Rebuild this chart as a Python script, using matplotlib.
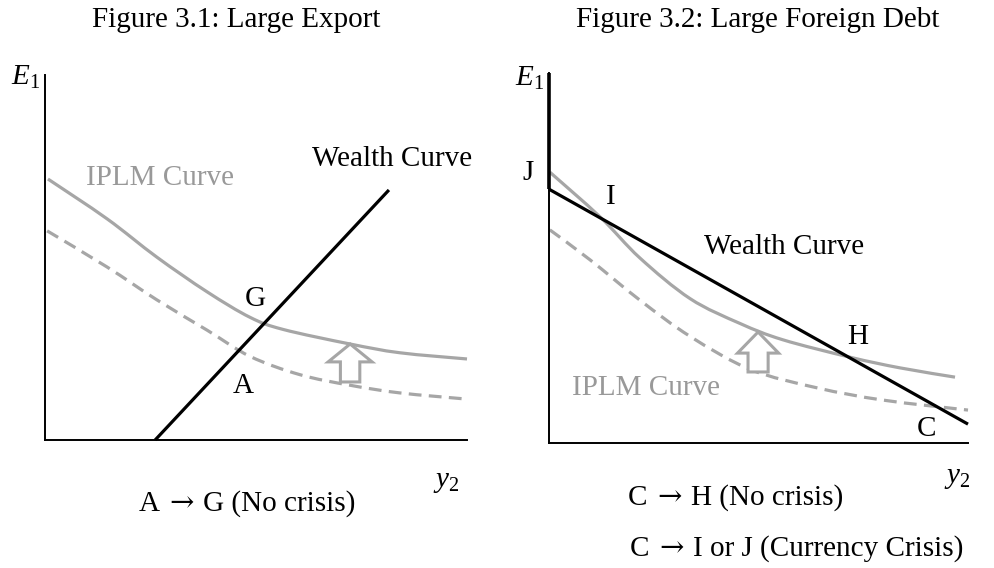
import matplotlib
matplotlib.use("Agg")
import matplotlib.pyplot as plt
from matplotlib.path import Path
from matplotlib.patches import PathPatch, Polygon
from matplotlib.offsetbox import TextArea, HPacker, AnnotationBbox

plt.rcParams["font.family"] = ["Liberation Serif", "DejaVu Serif"]
plt.rcParams["mathtext.fontset"] = "custom"
plt.rcParams["mathtext.rm"] = "Liberation Serif"
plt.rcParams["mathtext.it"] = "Liberation Serif:italic"

W, H = 994, 568
GRAY = "#a6a6a6"

# Figure 3.1 (diagram units 0-100 on both axes)
left_iplm_x = [0.7, 14.7, 26.5, 38.4, 48.6, 56.4, 72.3, 84.1, 100]
left_iplm_y = [71.5, 60.6, 50.1, 40.6, 33.6, 30.3, 26.3, 23.9, 22.2]
left_old_x = [0.5, 14.7, 26.5, 38.4, 48.6, 60.4, 72.3, 84.1, 100]
left_old_y = [57.3, 47.4, 38.4, 30.1, 22.9, 17.9, 15.0, 12.9, 11.2]
left_wealth_x = [26.1, 81.5]
left_wealth_y = [0, 68.5]

# Figure 3.2
right_iplm_x = [0.2, 12.2, 21.7, 33.7, 45.6, 55.8, 71.8, 83.8, 96.9]
right_iplm_y = [73.2, 61.1, 50.0, 39.0, 32.3, 27.9, 23.2, 20.3, 17.8]
right_old_x = [0.2, 9.8, 21.7, 33.7, 48.0, 64.0, 79.7, 100]
right_old_y = [57.6, 49.5, 38.6, 28.8, 19.9, 14.9, 11.6, 8.9]
right_wealth_x = [0, 100]
right_wealth_y = [68.6, 5.1]
right_bound_y = [68.6, 100]


def px(x, y):
    return x / W, 1 - y / H


def make_axes(fig, l, r, t, b):
    ax = fig.add_axes([l / W, 1 - b / H, (r - l) / W, (b - t) / H])
    ax.set_xlim(0, 100)
    ax.set_ylim(0, 100)
    for s in ["top", "right"]:
        ax.spines[s].set_visible(False)
    for s in ["left", "bottom"]:
        ax.spines[s].set_linewidth(1.4)
        ax.spines[s].set_color("black")
    ax.set_xticks([])
    ax.set_yticks([])
    ax.patch.set_alpha(0)
    return ax


def smooth(ax, xs, ys, **kw):
    # catmull-rom segments drawn as cubic beziers, passes through every point
    pts = list(zip(xs, ys))
    n = len(pts)
    verts = [pts[0]]
    codes = [Path.MOVETO]
    for i in range(n - 1):
        p0 = pts[i - 1] if i > 0 else pts[i]
        p1 = pts[i]
        p2 = pts[i + 1]
        p3 = pts[i + 2] if i + 2 < n else pts[i + 1]
        c1 = (p1[0] + (p2[0] - p0[0]) / 6, p1[1] + (p2[1] - p0[1]) / 6)
        c2 = (p2[0] - (p3[0] - p1[0]) / 6, p2[1] - (p3[1] - p1[1]) / 6)
        verts += [c1, c2, p2]
        codes += [Path.CURVE4] * 3
    patch = PathPatch(Path(verts, codes), fill=False, clip_on=False, **kw)
    ax.add_patch(patch)


def up_arrow(ax, x, tip, base, bottom, hw, sw):
    pts = [(x, tip), (x + hw, base), (x + sw, base), (x + sw, bottom),
           (x - sw, bottom), (x - sw, base), (x - hw, base)]
    ax.add_patch(Polygon(pts, closed=True, facecolor="white", edgecolor=GRAY,
                         lw=2.2, clip_on=False, joinstyle="miter"))


fig = plt.figure(figsize=(W / 100, H / 100), dpi=100)
fs = 21

# ---- left panel
ax1 = make_axes(fig, 45, 467, 75, 440)
smooth(ax1, left_iplm_x, left_iplm_y, color=GRAY, lw=2.3)
smooth(ax1, left_old_x, left_old_y, color=GRAY, lw=2.3, linestyle=(0, (4, 2.3)))
ax1.plot(left_wealth_x, left_wealth_y, color="black", lw=2.3, clip_on=False,
         solid_capstyle="butt")
up_arrow(ax1, 72.3, 26.3, 21.4, 15.9, 5.2, 2.3)

# ---- right panel
ax2 = make_axes(fig, 549, 968, 73, 443)
smooth(ax2, right_iplm_x, right_iplm_y, color=GRAY, lw=2.3)
smooth(ax2, right_old_x, right_old_y, color=GRAY, lw=2.3, linestyle=(0, (4, 2.3)))
ax2.plot(right_wealth_x, right_wealth_y, color="black", lw=2.3, clip_on=False,
         solid_capstyle="butt")
ax2.plot([0, 0], right_bound_y, color="black", lw=2.6, clip_on=False,
         solid_capstyle="butt")
up_arrow(ax2, 49.9, 30.0, 24.3, 19.2, 4.9, 2.4)


# ---- texts
def t(x, y, s, color="black", ha="center", va="center", size=fs):
    fig.text(*px(x, y), s, color=color, ha=ha, va=va, fontsize=size)


def arrow_text(x, y, left, right, align=0.5):
    # the serif arrow in Liberation is tiny, so take it from DejaVu Serif
    prop = dict(fontsize=fs, family="Liberation Serif")
    parts = [TextArea(left, textprops=prop),
             TextArea("→", textprops=dict(fontsize=fs, family="DejaVu Serif")),
             TextArea(right, textprops=prop)]
    box = HPacker(children=parts, align="baseline", pad=0, sep=7)
    ab = AnnotationBbox(box, px(x, y), xycoords="figure fraction",
                        box_alignment=(align, 0.5), frameon=False, pad=0)
    fig.add_artist(ab)


t(236, 20, "Figure 3.1: Large Export")
t(758, 20, "Figure 3.2: Large Foreign Debt")

t(392, 159, "Wealth Curve")
t(160, 178, "IPLM Curve", color="#999999")
t(255, 299, "G")
t(243, 386, "A")
t(26, 77, r"$E_1$")
t(446, 482, r"$y_2$")
arrow_text(247, 503, "A", "G (No crisis)")

t(530, 78, r"$E_1$")
t(528, 173, "J")
t(611, 197, "I")
t(784, 247, "Wealth Curve")
t(858, 337, "H")
t(646, 388, "IPLM Curve", color="#999999")
t(927, 429, "C")
t(957, 478, r"$y_2$")
arrow_text(628, 497, "C", "H (No crisis)", align=0)
arrow_text(630, 548, "C", "I or J (Currency Crisis)", align=0)

fig.savefig("out.png", dpi=100)
